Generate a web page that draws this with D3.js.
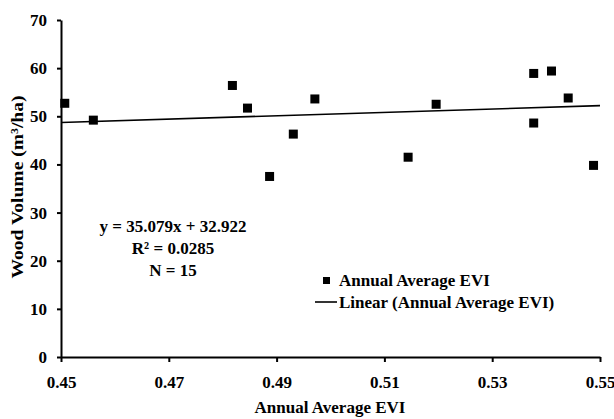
<!DOCTYPE html>
<html>
<head>
<meta charset="utf-8">
<script src="https://cdn.jsdelivr.net/npm/d3@7"></script>
<style>
  body { margin: 0; background: #fff; }
  svg text { font-family: "Liberation Serif", "Times New Roman", serif; font-weight: bold; fill: #000; }
</style>
</head>
<body>
<div id="chart"></div>
<script>
// data
const evi = [0.4507, 0.4560, 0.4818, 0.4846, 0.4887, 0.4931, 0.4971, 0.5144, 0.5196, 0.5377, 0.5377, 0.5410, 0.5441, 0.5488];
const woodVolume = [52.7, 49.2, 56.4, 51.7, 37.5, 46.3, 53.6, 41.5, 52.5, 58.9, 48.6, 59.4, 53.8, 39.8];
const xTicks = [0.45, 0.47, 0.49, 0.51, 0.53, 0.55];
const yTicks = [0, 10, 20, 30, 40, 50, 60, 70];
const slope = 35.079, intercept = 32.922;
const statsLines = ['y = 35.079x + 32.922', 'R² = 0.0285', 'N = 15'];
const legendLabels = ['Annual Average EVI', 'Linear (Annual Average EVI)'];

const width = 614, height = 419;
const margin = { top: 20, right: 14, bottom: 62, left: 61 };

const svg = d3.select('#chart').append('svg')
    .attr('width', width)
    .attr('height', height);

const x = d3.scaleLinear().domain([0.45, 0.55]).range([margin.left, width - margin.right]);
const y = d3.scaleLinear().domain([0, 70]).range([height - margin.bottom, margin.top]);

// axes
const xAxis = svg.append('g')
    .attr('transform', `translate(0,${y(0)})`)
    .call(d3.axisBottom(x).tickValues(xTicks).tickFormat(d3.format('.2f'))
        .tickSize(5).tickSizeOuter(0).tickPadding(14));

const yAxis = svg.append('g')
    .attr('transform', `translate(${x(0.45)},0)`)
    .call(d3.axisLeft(y).tickValues(yTicks).tickSize(4).tickSizeOuter(0).tickPadding(10));

[xAxis, yAxis].forEach(g => {
    g.selectAll('path, line').attr('stroke', '#000').attr('stroke-width', 2);
    g.selectAll('text').attr('font-size', 17);
});

// trend line
svg.append('line')
    .attr('x1', x(0.45)).attr('y1', y(slope * 0.45 + intercept))
    .attr('x2', x(0.55)).attr('y2', y(slope * 0.55 + intercept))
    .attr('stroke', '#000')
    .attr('stroke-width', 1.6);

// points
const pts = evi.map((v, i) => ({ x: v, y: woodVolume[i] }));
const s = 9;
svg.selectAll('.pt')
    .data(pts)
    .enter().append('rect')
    .attr('class', 'pt')
    .attr('x', d => x(d.x) - s / 2)
    .attr('y', d => y(d.y) - s / 2)
    .attr('width', s)
    .attr('height', s)
    .attr('fill', '#000');

// regression text
svg.selectAll('.stat')
    .data(statsLines)
    .enter().append('text')
    .attr('class', 'stat')
    .attr('x', 173)
    .attr('y', (d, i) => 232 + i * 22)
    .attr('text-anchor', 'middle')
    .attr('font-size', 17)
    .text(d => d);

// legend
const leg = svg.append('g');
leg.append('rect')
    .attr('x', 323).attr('y', 277)
    .attr('width', 7).attr('height', 7)
    .attr('fill', '#000');
leg.append('line')
    .attr('x1', 315).attr('x2', 337)
    .attr('y1', 302).attr('y2', 302)
    .attr('stroke', '#000').attr('stroke-width', 1.6);
leg.selectAll('text')
    .data(legendLabels)
    .enter().append('text')
    .attr('x', 339)
    .attr('y', (d, i) => 286 + i * 22)
    .attr('font-size', 17)
    .text(d => d);

// axis titles
svg.append('text')
    .attr('x', 330)
    .attr('y', 413)
    .attr('text-anchor', 'middle')
    .attr('font-size', 17)
    .text('Annual Average EVI');

svg.append('text')
    .attr('transform', 'translate(23,187) rotate(-90)')
    .attr('text-anchor', 'middle')
    .attr('font-size', 17)
    .attr('textLength', 183)
    .attr('lengthAdjust', 'spacingAndGlyphs')
    .text('Wood Volume (m³/ha)');
</script>
</body>
</html>
